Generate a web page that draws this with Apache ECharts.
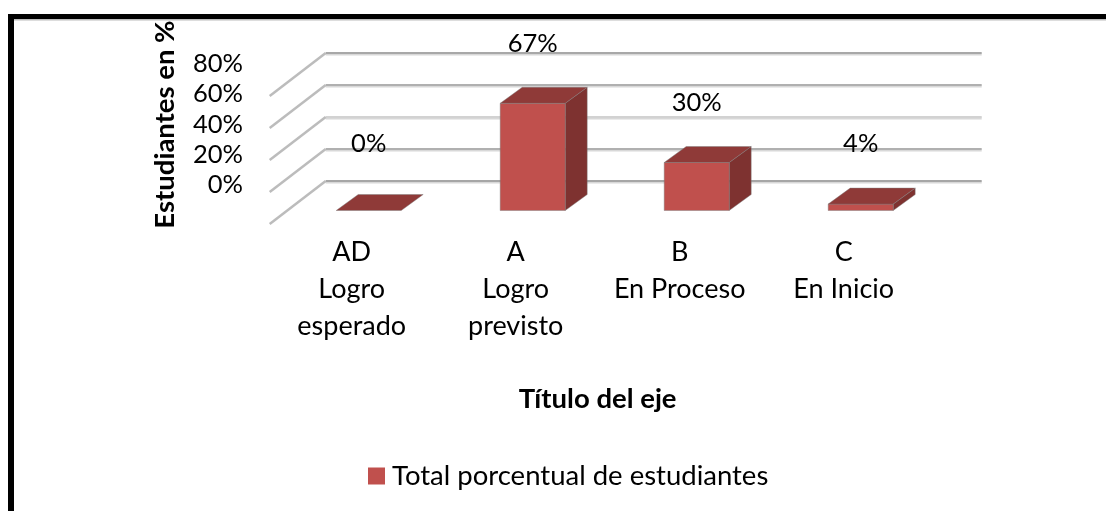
<!DOCTYPE html>
<html><head><meta charset="utf-8">
<style>html,body{margin:0;padding:0;background:#fff}#c{width:1106px;height:511px}</style>
<script src="https://cdn.jsdelivr.net/npm/echarts@6/dist/echarts.min.js"></script>
</head><body><div id="c"></div>
<script>
const categories = ['AD\nLogro\nesperado','A\nLogro\nprevisto','B\nEn Proceso','C\nEn Inicio'];
const seriesName = 'Total porcentual de estudiantes';
const values = [0, 67, 30, 4];
const yTicks = [0, 20, 40, 60, 80];
const labelLift = [67, 60, 60, 60];

const FONT = 'Lato';
const BAR_W = 65, SIDE_X = 22, SIDE_Y = 16;
const FRONT_DX = -39, FRONT_DY = 29.5;
const WALL_DX = -56, WALL_DY = 43;

const chart = echarts.init(document.getElementById('c'), null, {renderer:'canvas'});

function poly(points, fill){
  return {type:'polygon', shape:{points}, style:{fill, stroke:'rgba(125,125,125,0.55)', lineWidth:0.8}};
}
function renderBar(params, api){
  const i = api.value(0), v = api.value(1);
  const base = api.coord([i, 0]), top = api.coord([i, v]);
  const xl = base[0] + FRONT_DX - BAR_W/2, xr = xl + BAR_W;
  const yb = base[1] + FRONT_DY, yt = top[1] + FRONT_DY;
  const children = [];
  if (v > 0) {
    children.push(poly([[xr,yb],[xr+SIDE_X,yb-SIDE_Y],[xr+SIDE_X,yt-SIDE_Y],[xr,yt]], '#7E3230'));
    children.push(poly([[xl,yb],[xr,yb],[xr,yt],[xl,yt]], '#C0504D'));
  }
  children.push(poly([[xl,yt],[xr,yt],[xr+SIDE_X,yt-SIDE_Y],[xl+SIDE_X,yt-SIDE_Y]], '#8F3A38'));
  children.push({type:'text', z2:10, style:{
    x:(xl+xr)/2, y:yt-labelLift[i], text:v+'%', align:'center', verticalAlign:'middle',
    font:'25.5px '+FONT, fill:'#000'}});
  return {type:'group', children};
}
function renderWall(params, api){
  const c = api.coord([0, api.value(1)]);
  const x = c[0] - api.size([1, 0])[0] / 2;
  return {type:'line', shape:{x1:x,y1:c[1],x2:x+WALL_DX,y2:c[1]+WALL_DY},
    style:{stroke:'#bcbcbc', lineWidth:2.5}};
}

chart.setOption({
  animation:false,
  backgroundColor:'#fff',
  textStyle:{fontFamily:FONT},
  graphic:[
    {type:'rect', shape:{x:8,y:19,width:1098,height:1.5}, style:{fill:'#bbb'}, z:1},
    {type:'rect', shape:{x:8,y:14,width:1098,height:5}, style:{fill:'#000'}, z:2},
    {type:'rect', shape:{x:8,y:14,width:6,height:497}, style:{fill:'#000'}, z:2}
  ],
  legend:{
    left:363, top:457, itemWidth:17, itemHeight:17, itemGap:7, icon:'rect',
    data:[seriesName],
    textStyle:{fontFamily:FONT, fontSize:27.5, color:'#000', padding:[0,0,0,2]}
  },
  grid:[
    {left:325.7, top:53, width:656, height:128},
    {left:269.7, top:95, width:656, height:128},
    {left:243, top:64, width:10, height:121}
  ],
  xAxis:[
    {gridIndex:0, type:'category', data:categories, axisLine:{show:false}, axisTick:{show:false}, axisLabel:{show:false}},
    {gridIndex:1, type:'category', data:categories, axisLine:{show:false}, axisTick:{show:false},
      axisLabel:{color:'#000', fontFamily:FONT, fontSize:27, lineHeight:37, margin:11, interval:0},
      name:'Título del eje', nameLocation:'middle', nameGap:162,
      nameTextStyle:{color:'#000', fontFamily:FONT, fontSize:27.5, fontWeight:'bold'}},
    {gridIndex:2, type:'category', data:[''], show:false}
  ],
  yAxis:[
    {gridIndex:0, type:'value', min:0, max:80, interval:20, axisLabel:{show:false}, axisLine:{show:false}, axisTick:{show:false},
      splitLine:{show:true, lineStyle:{width:2, shadowColor:'#d8d8d8', shadowOffsetY:1.5, color:['#a6a6a6','#b0b0b0','#d2d2d2','#b0b0b0','#a8a8a8']}}},
    {gridIndex:1, type:'value', min:0, max:80, interval:20, show:false},
    {gridIndex:2, type:'value', min:0, max:80, interval:20, position:'left', axisLine:{show:false}, axisTick:{show:false}, splitLine:{show:false},
      axisLabel:{color:'#000', fontFamily:FONT, fontSize:25.5, margin:0, formatter:'{value}%'},
      name:'Estudiantes en %', nameLocation:'middle', nameRotate:90, nameGap:64,
      nameTextStyle:{color:'#000', fontFamily:FONT, fontSize:27.5, fontWeight:'bold'}}
  ],
  series:[
    {type:'custom', silent:true, xAxisIndex:0, yAxisIndex:0, z:1, renderItem:renderWall,
      data:yTicks.map(t=>[0,t]), encode:{x:0,y:1}, name:'walls', tooltip:{show:false}},
    {type:'custom', name:seriesName, xAxisIndex:0, yAxisIndex:0, z:3, renderItem:renderBar,
      itemStyle:{color:'#C0504D'}, data:values.map((v,i)=>[i,v]), encode:{x:0,y:1}}
  ]
});
</script></body></html>
